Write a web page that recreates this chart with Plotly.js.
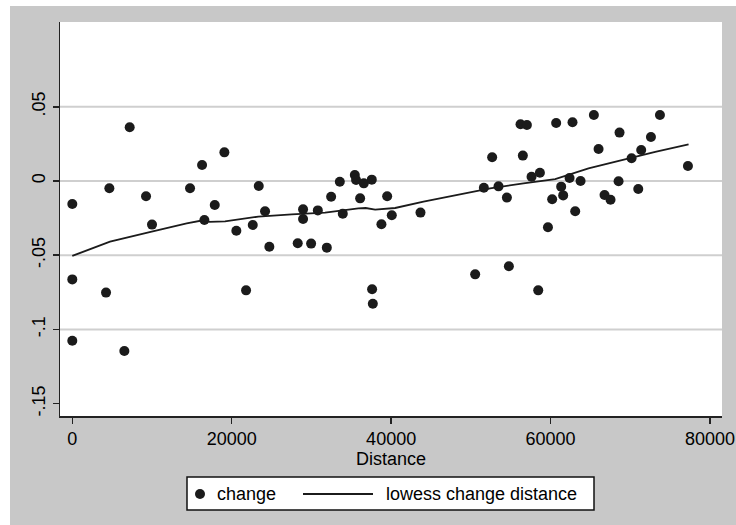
<!DOCTYPE html>
<html>
<head>
<meta charset="utf-8">
<script src="https://cdn.plot.ly/plotly-3.0.1.min.js"></script>
<style>
  html, body { margin: 0; padding: 0; background: #ffffff; width: 736px; height: 525px; overflow: hidden; }
  #chart { position: absolute; left: 10px; top: 6px; width: 726px; height: 519px; }
</style>
</head>
<body>
<div id="chart"></div>
<script>
// Scatter data: distance and change
const distance = [0, 0, 0, 4230, 4650, 6530, 7200, 9250, 10000, 14770, 16280, 16570, 17870, 19080,
  20580, 21800, 22640, 23390, 24180, 24720, 28280, 28950, 28950, 29960, 30800, 31930, 32470, 33560,
  33930, 35440, 35600, 36110, 36570, 37570, 37610, 37700, 38780, 39500, 40080, 43680, 50540, 51630,
  52670, 53470, 54520, 54770, 56230, 56520, 57030, 57610, 58450, 58660, 59670, 60200, 60700, 61330,
  61580, 62380, 62750, 63090, 63760, 65430, 66020, 66770, 67520, 68530, 68650, 70160, 71000, 71370,
  72590, 73720, 77230];
const change = [-0.0155, -0.0663, -0.1076, -0.0752, -0.0049, -0.1146, 0.0362, -0.0103, -0.0294, -0.0049,
  0.0108, -0.0263, -0.0162, 0.0193, -0.0335, -0.0737, -0.0296, -0.0034, -0.0204, -0.0443, -0.0420,
  -0.0191, -0.0256, -0.0422, -0.0198, -0.0449, -0.0106, -0.0005, -0.0220, 0.0040, 0.0007, -0.0117,
  -0.0016, 0.0009, -0.0730, -0.0827, -0.0292, -0.0103, -0.0231, -0.0213, -0.0629, -0.0045, 0.0160,
  -0.0036, -0.0112, -0.0575, 0.0382, 0.0171, 0.0377, 0.0029, -0.0737, 0.0056, -0.0312, -0.0123,
  0.0391, -0.0038, -0.0097, 0.0020, 0.0396, -0.0204, 0.0000, 0.0445, 0.0216, -0.0094, -0.0126,
  -0.0002, 0.0326, 0.0153, -0.0054, 0.0209, 0.0296, 0.0445, 0.0101];

// Lowess curve
const lowessX = [0, 4730, 9960, 14350, 16570, 17200, 19160, 23340, 27530, 31710, 35890, 36800, 37990,
  40500, 44060, 48240, 52420, 56600, 60580, 64760, 68950, 73130, 77310];
const lowessY = [-0.0505, -0.0409, -0.0341, -0.0285, -0.0263, -0.0275, -0.0272, -0.0240, -0.0225,
  -0.0213, -0.0184, -0.0182, -0.0193, -0.0182, -0.0139, -0.0094, -0.0049, -0.0016, 0.0013, 0.0085,
  0.0142, 0.0197, 0.0247];

// Axis ticks
const xTickVals = [0, 20000, 40000, 60000, 80000];
const xTickText = ["0", "20000", "40000", "60000", "80000"];
const yTickVals = [-0.15, -0.1, -0.05, 0, 0.05];
const yTickText = ["-.15", "-.1", "-.05", "0", ".05"];
const yGridVals = [-0.1, -0.05, 0, 0.05];

// Legend labels
const legendLabels = ["change", "lowess change distance"];

const FONT = "Liberation Sans, Arial, sans-serif";
const INK = "#1b1b1b";

const traces = [
  {
    x: distance, y: change, type: "scatter", mode: "markers", name: legendLabels[0],
    marker: { color: INK, size: 10 },
    cliponaxis: false
  },
  {
    x: lowessX, y: lowessY, type: "scatter", mode: "lines", name: legendLabels[1],
    line: { color: INK, width: 1.8 }
  }
];

const shapes = yGridVals.map(v => ({
  type: "line", xref: "paper", x0: 0, x1: 1, yref: "y", y0: v, y1: v,
  line: { color: "#cfcfcf", width: 2 }, layer: "below"
}));

// Legend (drawn as a Stata-style boxed key below the plot)
const legY = -0.19797;
shapes.push(
  { type: "rect", xref: "paper", yref: "paper", x0: 0.19184, x1: 0.80665, y0: -0.23858, y1: -0.15482,
    fillcolor: "#ffffff", line: { color: "#111111", width: 1.5 }, layer: "above" },
  { type: "circle", xref: "paper", yref: "paper", xsizemode: "pixel", ysizemode: "pixel",
    xanchor: 0.21148, yanchor: legY, x0: -5, x1: 5, y0: -5, y1: 5,
    fillcolor: INK, line: { color: INK, width: 0 }, layer: "above" },
  { type: "line", xref: "paper", yref: "paper", x0: 0.36707, x1: 0.47281, y0: legY, y1: legY,
    line: { color: INK, width: 1.8 }, layer: "above" }
);

const annotations = [
  { xref: "paper", yref: "paper", x: 0.23414, y: legY, xanchor: "left", yanchor: "middle",
    text: legendLabels[0], showarrow: false, font: { family: FONT, size: 18, color: "#000000" } },
  { xref: "paper", yref: "paper", x: 0.48943, y: legY, xanchor: "left", yanchor: "middle",
    text: legendLabels[1], showarrow: false, font: { family: FONT, size: 18, color: "#000000" } }
];

const layout = {
  width: 726, height: 519,
  margin: { l: 50, r: 14, t: 16, b: 109 },
  paper_bgcolor: "#c8c8c8",
  plot_bgcolor: "#ffffff",
  font: { family: FONT, size: 18, color: "#000000" },
  showlegend: false,
  shapes: shapes,
  annotations: annotations,
  xaxis: {
    range: [-1543, 81505],
    tickmode: "array", tickvals: xTickVals, ticktext: xTickText,
    ticks: "outside", ticklen: 6, tickwidth: 1.5, tickcolor: "#222222",
    showgrid: false, zeroline: false,
    showline: true, linecolor: "#222222", linewidth: 1.5,
    tickfont: { family: FONT, size: 18, color: "#000000" },
    title: { text: "Distance", font: { family: FONT, size: 18, color: "#000000" }, standoff: 2 }
  },
  yaxis: {
    range: [-0.15836, 0.10714],
    tickmode: "array", tickvals: yTickVals, ticktext: yTickText,
    tickangle: -90,
    ticks: "outside", ticklen: 6, tickwidth: 1.5, tickcolor: "#222222",
    showgrid: false, zeroline: false,
    showline: true, linecolor: "#222222", linewidth: 1.5,
    tickfont: { family: FONT, size: 18, color: "#000000" }
  }
};

Plotly.newPlot("chart", traces, layout, { displayModeBar: false, staticPlot: true });
</script>
</body>
</html>
